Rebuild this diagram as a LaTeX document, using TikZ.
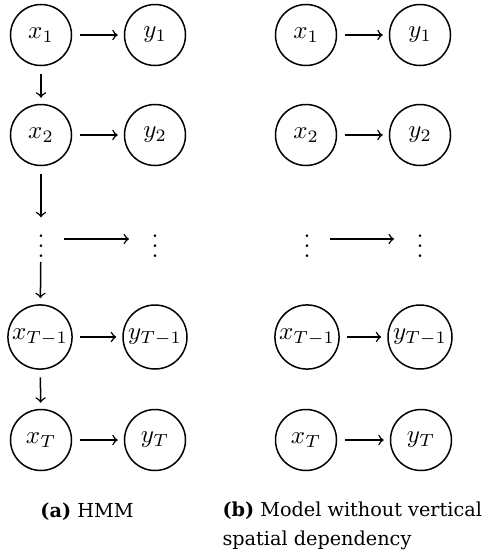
\documentclass[tikz,border=0pt]{standalone}
\usepackage{fontspec}
\newfontfamily\capfont{DejaVu Serif}
\begin{document}
\begin{tikzpicture}[x=0.4pt,y=-0.4pt,
  var/.style={circle,draw,line width=0.6pt,minimum size=24.4pt,inner sep=1pt},
  widevar/.style={var,minimum size=25.6pt},
  gap/.style={inner sep=0pt,outer sep=0pt},
  link/.style={->,line width=0.6pt,shorten <=3pt,shorten >=2.4pt},
  captext/.style={anchor=base west,inner sep=0pt,align=left,font=\capfont\fontsize{7.7}{11.3}\selectfont}]
\useasboundingbox (0,0) rectangle (488,554);

% (a) hidden Markov model
\node[var] (ax1) at (41,35) {$x_1$};
\node[var] (ay1) at (155,35) {$y_1$};
\node[var] (ax2) at (41,135) {$x_2$};
\node[var] (ay2) at (155,135) {$y_2$};
\node[gap,anchor=base] (axd) at (41,257) {$\vdots$};
\node[gap,anchor=base] (ayd) at (155,257) {$\vdots$};
\node[widevar] (axt1) at (40,337) {$x_{T-1}$};
\node[widevar] (ayt1) at (155,337) {$y_{T-1}$};
\node[var] (axt) at (41,440) {$x_T$};
\node[var] (ayt) at (155,440) {$y_T$};

\draw[link] (ax1) -- (ay1);
\draw[link] (ax2) -- (ay2);
\draw[link,shorten <=8pt,shorten >=9pt] (axd.east |- 0,239) -- (ayd.west |- 0,239);
\draw[link] (axt1) -- (ayt1);
\draw[link] (axt) -- (ayt);
\draw[link] (ax1) -- (ax2);
\draw[link,shorten >=0.8pt] (ax2) -- (axd);
\draw[link,shorten <=2pt] (axd) -- (axt1);
\draw[link] (axt1) -- (axt);

% (b) no vertical dependency between the hidden states
\node[var] (bx1) at (306,35) {$x_1$};
\node[var] (by1) at (420,35) {$y_1$};
\node[var] (bx2) at (306,135) {$x_2$};
\node[var] (by2) at (420,135) {$y_2$};
\node[gap,anchor=base] (bxd) at (307,257) {$\vdots$};
\node[gap,anchor=base] (byd) at (420,257) {$\vdots$};
\node[widevar] (bxt1) at (307,337) {$x_{T-1}$};
\node[widevar] (byt1) at (420,337) {$y_{T-1}$};
\node[var] (bxt) at (306,440) {$x_T$};
\node[var] (byt) at (421,440) {$y_T$};

\draw[link] (bx1) -- (by1);
\draw[link] (bx2) -- (by2);
\draw[link,shorten <=8pt,shorten >=9pt] (bxd.east |- 0,239) -- (byd.west |- 0,239);
\draw[link] (bxt1) -- (byt1);
\draw[link] (bxt) -- (byt);

% captions (a multi-line node sits on the baseline of its last line)
\node[captext] (capa) at (40,517) {\textbf{(a)} HMM};
\node[captext] (capb) at (222,545) {\textbf{(b)} Model without vertical\\spatial dependency};
\end{tikzpicture}
\end{document}
